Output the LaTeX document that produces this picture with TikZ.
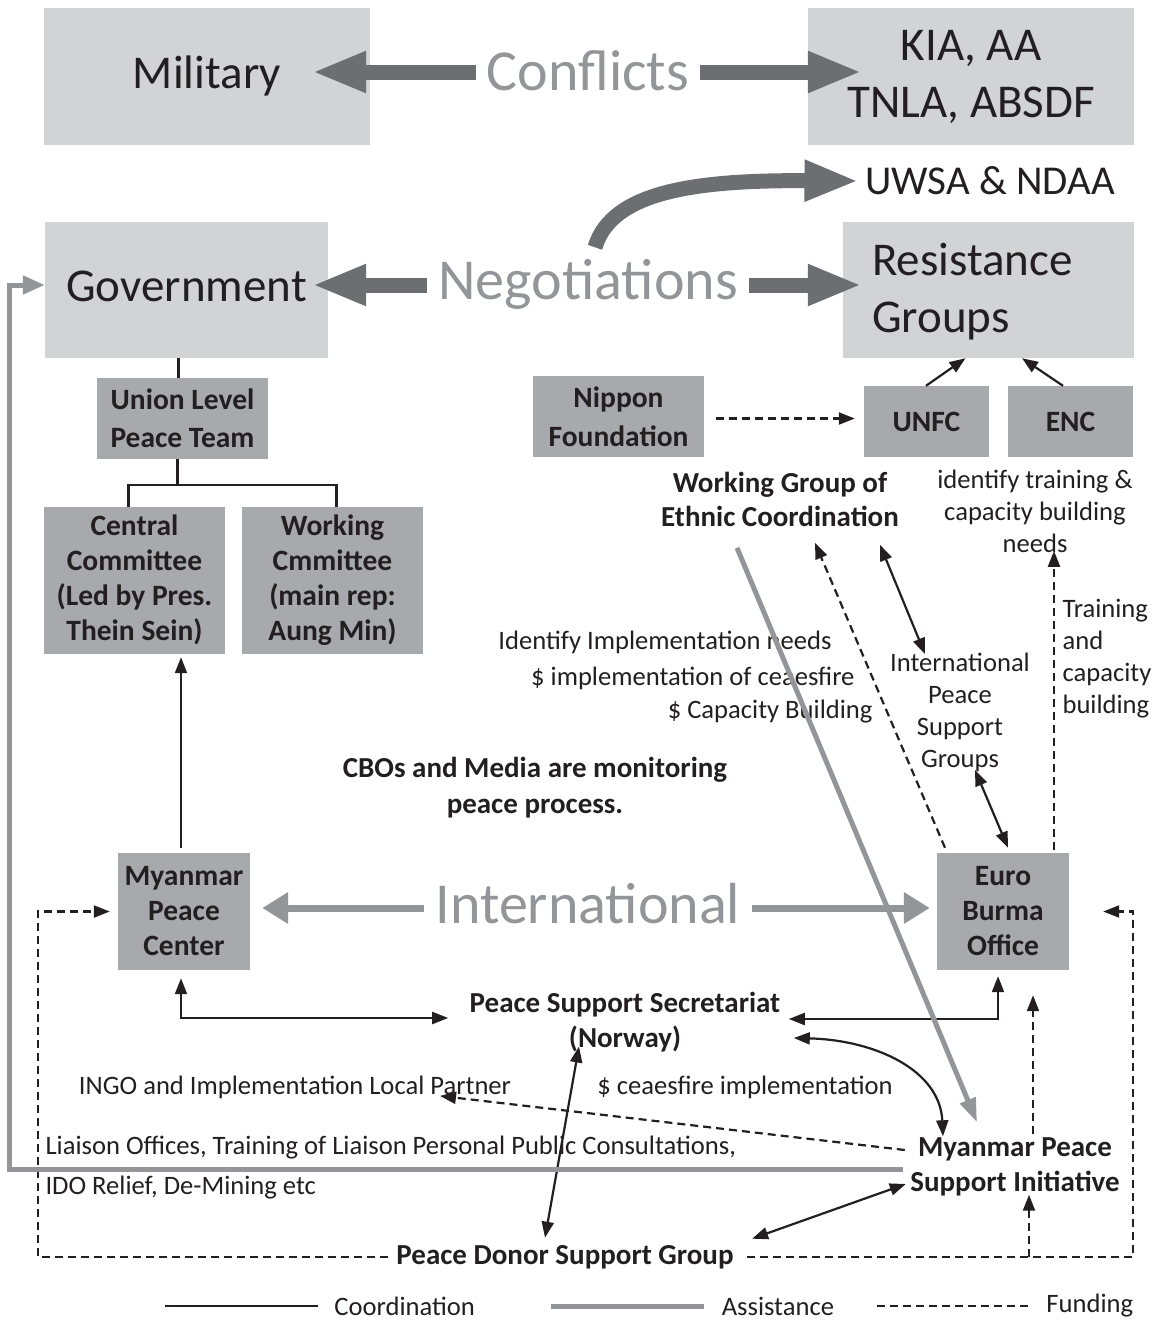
\documentclass[tikz,border=0pt]{standalone}
\usepackage{fontspec}
\setmainfont{Carlito}
\usepackage{xcolor}
\usetikzlibrary{positioning,calc,arrows.meta}

\definecolor{boxlight}{HTML}{D1D3D4}
\definecolor{boxdark}{HTML}{A7A9AC}
\definecolor{arrowdark}{HTML}{6D6E71}
\definecolor{labelgray}{HTML}{939598}
\definecolor{inkblack}{HTML}{231F20}

\begin{document}
\begin{tikzpicture}[x=1pt,y=-1pt,text=inkblack,
    lightbox/.style={fill=boxlight, inner sep=0pt, align=center, font=\fontsize{47}{57}\selectfont},
    darkbox/.style={fill=boxdark, inner sep=0pt, align=center, font=\bfseries\fontsize{29.5}{35}\selectfont},
    biglabel/.style={text=labelgray, inner sep=11pt, text height=37pt, text depth=0pt, font=\fontsize{58}{64}\selectfont},
    boldlabel/.style={align=center, font=\bfseries\fontsize{29}{35}\selectfont},
    smalllabel/.style={align=center, font=\fontsize{26.6}{32}\selectfont},
    bigarrow/.style={arrowdark, line width=15pt, -{Triangle[length=54pt,width=38pt]}},
    intarrow/.style={labelgray, line width=7pt, -{Triangle[length=26pt,width=30pt]}},
    coordline/.style={inkblack, line width=2.2pt},
    assistline/.style={labelgray, line width=5pt},
    fundline/.style={inkblack, line width=2.2pt, dash pattern=on 8pt off 5pt},
    >={Triangle[length=16pt,width=12pt]}]

    \useasboundingbox (0,0) rectangle (1165,1325);

    % conflicts row
    \node[lightbox, minimum width=326pt, minimum height=137pt] (military) at (207,76.5) {Military\vphantom{Ag}};
    \node[lightbox, minimum width=326pt, minimum height=137pt] (kia) at (971,76.5) {KIA, AA\\TNLA, ABSDF};
    \node[biglabel] (conflicts) at (588,72) {Conflicts};
    \draw[bigarrow] (conflicts.west) -- ($(conflicts.west -| military.east)+(-58,0)$);
    \draw[bigarrow] (conflicts.east) -- ($(conflicts.east -| kia.west)+(54,0)$);

    % negotiations row
    \node[font=\fontsize{41}{48}\selectfont] (uwsa) at (990,181) {UWSA \& NDAA};
    \node[lightbox, minimum width=283pt, minimum height=136pt] (gov) at (186.5,290) {Government\vphantom{g}};
    \node[lightbox, minimum width=291pt, minimum height=136pt] (resist) at (988.5,290) {};
    \node[lightbox, fill=none, align=left, anchor=west] (resisttext) at (872,292) {Resistance\\Groups};
    \node[biglabel] (negot) at (588,281) {Negotiations};
    \draw[bigarrow] ([yshift=-4pt]negot.west) -- ($(negot.west -| gov.east)+(-16,4)$);
    \draw[bigarrow] ([yshift=-4pt]negot.east) -- ($(negot.east -| resist.west)+(19,4)$);
    \draw[bigarrow] ([xshift=7pt,yshift=4pt]negot.north) .. controls (612,190) and (700,180) .. ([xshift=-3pt]uwsa.west);

    % government side
    \node[darkbox, font=\bfseries\fontsize{29.5}{38}\selectfont, minimum width=171pt, minimum height=81pt] (union) at (182.5,418.5) {Union Level\\Peace Team};
    \node[darkbox, minimum width=181pt, minimum height=147pt] (central) at (134.5,580.5) {Central\\Committee\\(Led by Pres.\\Thein Sein)\vphantom{g}};
    \node[darkbox, minimum width=181pt, minimum height=147pt] (working) at (332.5,580.5) {Working\\Cmmittee\\(main rep:\\Aung Min)};
    \draw[coordline] ($(union.north)+(-4,0)$) -- ($(union.north |- gov.south)+(-4,0)$);
    \draw[coordline] ($(union.south)+(-5,0)$) -- ++(0,26) -| ($(central.north)+(-6,0)$);
    \draw[coordline] ($(union.south)+(-5,26)$) -| ($(working.north)+(4,0)$);

    % resistance side
    \node[darkbox, font=\bfseries\fontsize{29.5}{39}\selectfont, minimum width=171pt, minimum height=81pt] (nippon) at (618.5,416.5) {Nippon\\Foundation};
    \node[darkbox, minimum width=125pt, minimum height=71pt] (unfc) at (926.5,421.5) {UNFC};
    \node[darkbox, minimum width=125pt, minimum height=71pt] (enc) at (1070.5,421.5) {ENC};
    \draw[fundline,->,shorten <=12pt,shorten >=9pt] ([yshift=-2pt]nippon.east) -- ([yshift=-2pt]nippon.east -| unfc.west);
    \draw[coordline,->] ([xshift=-0.5pt]unfc.north) -- ([xshift=-23pt]resist.south);
    \draw[coordline,->] ([xshift=-7.5pt]enc.north) -- ([xshift=33.5pt]resist.south);
    \node[boldlabel, font=\bfseries\fontsize{29}{34}\selectfont] (wgec) at (780,499) {Working Group of\\Ethnic Coordination};
    \node[smalllabel] (idneeds) at (1035,511) {identify training \&\\capacity building\\needs};
    \node[smalllabel, align=left, anchor=west] (training) at (1059,659) {Training\\and\\capacity\\building};
    \node[smalllabel] (ipsg) at (960,712) {International\\Peace\\Support\\Groups};
    \node[smalllabel, anchor=east] (impneeds) at (835,642) {Identify Implementation needs};
    \node[smalllabel, anchor=east] (impcease) at (858,678) {\$ implementation of ceaesfire};
    \node[smalllabel, anchor=east] (impcap) at (876,712) {\$ Capacity Building};
    \node[boldlabel, font=\bfseries\fontsize{29}{36}\selectfont] (cbos) at (535,788) {CBOs and Media are monitoring\\peace process.};

    % international row
    \node[darkbox, minimum width=132pt, minimum height=117pt] (mpc) at (184,911.5) {Myanmar\\Peace\\Center};
    \node[darkbox, minimum width=132pt, minimum height=117pt] (ebo) at (1003,911.5) {Euro\\Burma\\Office};
    \node[biglabel] (intl) at (588,905) {International};
    \draw[intarrow] ([yshift=-3pt]intl.west) -- ($(intl.west -| mpc.east)+(12,3)$);
    \draw[intarrow] ([yshift=-3pt]intl.east) -- ($(intl.east -| ebo.west)+(-7,3)$);
    \draw[coordline,->] ($(mpc.north)+(-3,-5)$) -- ($(central.south -| mpc.north)+(-3,3)$);
    \draw[coordline,<->] ($(wgec.south)+(100,15)$) -- ($(ipsg.north)+(-35,5)$);
    \draw[coordline,<->] ($(ipsg.south)+(15,-5)$) -- ($(ebo.north)+(5,-5)$);
    \draw[fundline,->] ($(ebo.north)+(-58,-5)$) -- ($(wgec.south)+(35,13)$);
    \draw[fundline,->] ($(ebo.north)+(51,-3)$) -- ($(idneeds.south)+(19,-5)$);

    % lower part
    \node[boldlabel] (pss) at (625,1022) {Peace Support Secretariat\\(Norway)};
    \node[boldlabel] (mpsi) at (1015,1167) {Myanmar Peace\\Support Initiative};
    \node[boldlabel] (pdsg) at (565,1257) {Peace Donor Support Group};
    \node[smalllabel] (ingo) at (295,1087) {INGO and Implementation Local Partner};
    \node[smalllabel] (cease) at (745,1087) {\$ ceaesfire implementation};
    \node[smalllabel, anchor=west] (liaison) at (42,1148) {Liaison Offices, Training of Liaison Personal Public Consultations,};
    \node[smalllabel, anchor=west] (ido) at (42,1188) {IDO Relief, De-Mining etc};

    \draw[coordline,<->] ($(mpc.south)+(-3,8)$) |- ($(pss.west)+(-18,-4)$);
    \draw[coordline,<->] ($(ebo.south)+(-5,6)$) |- ($(pss.east)+(5,-3)$);
    \draw[coordline,<->] ($(pss.east)+(10,16)$) .. controls (875,1040) and (940,1070) .. ($(mpsi.north)+(-72,2)$);
    \draw[coordline,<->] ($(pss.south)+(-46,-9)$) -- ($(pdsg.north)+(-20,-4)$);
    \draw[coordline,<->] ($(mpsi.west)+(-1,17)$) -- ($(pdsg.north east)+(15,-3)$);
    \draw[fundline,->] ($(mpsi.west)+(-2,-17)$) -- ($(ingo.south)+(145,-6)$);
    \draw[fundline,->] ($(mpsi.north)+(18,0)$) -- ($(ebo.south)+(30,25)$);
    \draw[fundline,->] ($(mpsi.south |- pdsg.east)+(14,0)$) -- ($(mpsi.south)+(14,-5)$);
    \draw[fundline,->] ([xshift=10pt]pdsg.east) -| ($(ebo.east)+(64,0)$) -- ($(ebo.east)+(34,0)$);
    \draw[fundline,->] ([xshift=-5pt]pdsg.west) -| ($(mpc.west)+(-80,0)$) -- ($(mpc.west)+(-8,0)$);

    % assistance
    \draw[assistline,-{Triangle[length=24pt,width=16pt]}] ($(wgec.south)+(-43,18)$) -- ($(mpsi.north)+(-38,-12)$);
    \draw[assistline,-{Triangle[length=22pt,width=18pt]}] ($(mpsi.west)+(-4,2)$) -| ($(gov.west)+(-35,-5)$) -- ($(gov.west)+(0,-5)$);

    % legend
    \foreach \x/\sty/\txt [count=\i] in {165/coordline/Coordination, 551/assistline/Assistance, 877/fundline/Funding}
        \draw[\sty] (\x,1306) -- ++(153,0) node[smalllabel, anchor=west, text=inkblack, xshift=12pt] (legend\i) {\txt};
\end{tikzpicture}
\end{document}
